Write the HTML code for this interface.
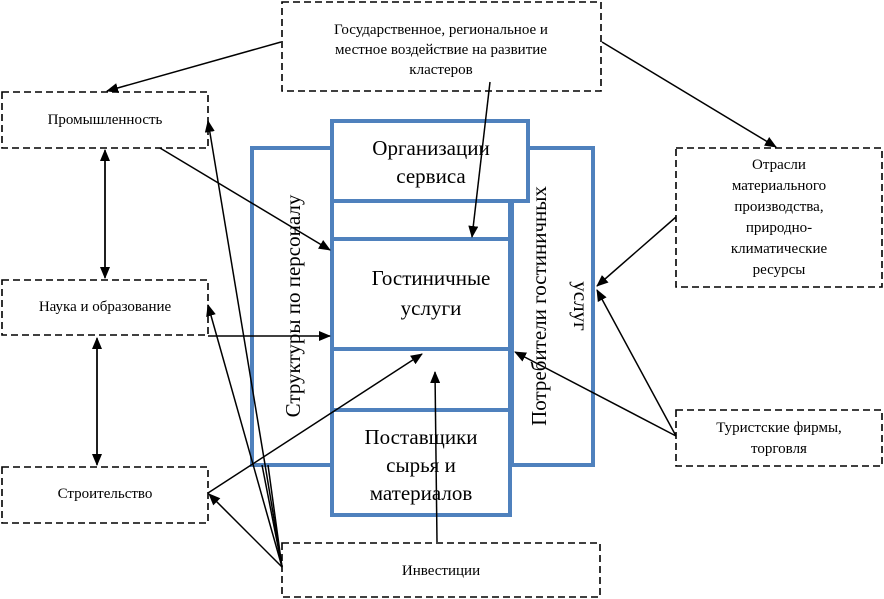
<!DOCTYPE html>
<html><head><meta charset="utf-8"><style>
html,body{margin:0;padding:0;background:#fff;}
svg{display:block;}
text{font-family:"Liberation Serif",serif;fill:#000;}
</style></head><body>
<svg width="884" height="599" viewBox="0 0 884 599" xmlns="http://www.w3.org/2000/svg">
<defs>
<marker id="a" markerWidth="12" markerHeight="10" refX="11" refY="5" orient="auto" markerUnits="userSpaceOnUse">
<path d="M0,0 L12,5 L0,10 Z" fill="#000"/>
</marker>
</defs>
<g fill="none" stroke="#000" stroke-width="1.6" stroke-dasharray="7,4">
<rect x="282" y="2" width="319" height="89"/>
<rect x="2" y="92" width="206" height="56"/>
<rect x="2" y="280" width="206" height="55"/>
<rect x="2" y="467" width="206" height="56"/>
<rect x="282" y="543" width="318" height="54"/>
<rect x="676" y="148" width="206" height="139"/>
<rect x="676" y="410" width="206" height="56"/>
</g>
<g fill="#fff" stroke="#4f81bd" stroke-width="4">
<rect x="252" y="148" width="80" height="317"/>
<rect x="512" y="148" width="81" height="317"/>
<rect x="332" y="121" width="196" height="80"/>
<rect x="332" y="201" width="178" height="314"/>
<line x1="332" y1="239" x2="510" y2="239"/>
<line x1="332" y1="349" x2="510" y2="349"/>
<line x1="332" y1="410" x2="510" y2="410"/>
</g>
<g font-size="15" text-anchor="middle">
<text x="441" y="34">Государственное, региональное и</text>
<text x="441" y="54">местное воздействие на развитие</text>
<text x="441" y="74">кластеров</text>
<text x="105" y="124">Промышленность</text>
<text x="105" y="311">Наука и образование</text>
<text x="105" y="498">Строительство</text>
<text x="441" y="575">Инвестиции</text>
<text x="779" y="169">Отрасли</text>
<text x="779" y="190">материального</text>
<text x="779" y="211">производства,</text>
<text x="779" y="232">природно-</text>
<text x="779" y="253">климатические</text>
<text x="779" y="274">ресурсы</text>
<text x="779" y="432">Туристские фирмы,</text>
<text x="779" y="453">торговля</text>
</g>
<g font-size="21" text-anchor="middle">
<text x="431" y="155">Организации</text>
<text x="431" y="183">сервиса</text>
<text x="431" y="285">Гостиничные</text>
<text x="431" y="315">услуги</text>
<text x="421" y="444">Поставщики</text>
<text x="421" y="472">сырья и</text>
<text x="421" y="500">материалов</text>
<text transform="translate(300,306) rotate(-90)">Структуры по персоналу</text>
<text transform="translate(546,306) rotate(-90)">Потребители гостиничных</text>
<text transform="translate(574,306) rotate(90)">услуг</text>
</g>
<g stroke="#000" stroke-width="1.5" fill="none">
<line x1="281" y1="42" x2="107" y2="91" marker-end="url(#a)"/>
<line x1="602" y1="42" x2="776" y2="147" marker-end="url(#a)"/>
<line x1="490" y1="82" x2="472" y2="237" marker-end="url(#a)"/>
<line x1="160" y1="148" x2="330" y2="250" marker-end="url(#a)"/>
<line x1="208" y1="336" x2="330" y2="336" marker-end="url(#a)"/>
<line x1="105" y1="160" x2="105" y2="278" marker-end="url(#a)"/>
<line x1="105" y1="270" x2="105" y2="150" marker-end="url(#a)"/>
<line x1="97" y1="347" x2="97" y2="465" marker-end="url(#a)"/>
<line x1="97" y1="455" x2="97" y2="338" marker-end="url(#a)"/>
<line x1="208" y1="493" x2="422" y2="354" marker-end="url(#a)"/>
<line x1="282" y1="567" x2="208" y2="121" marker-end="url(#a)"/>
<line x1="282" y1="567" x2="208" y2="305" marker-end="url(#a)"/>
<line x1="282" y1="567" x2="209" y2="494" marker-end="url(#a)"/>
<line x1="262" y1="465" x2="282" y2="567"/>
<line x1="268" y1="465" x2="282" y2="567"/>
<line x1="437" y1="542" x2="435" y2="372" marker-end="url(#a)"/>
<line x1="676" y1="217" x2="597" y2="286" marker-end="url(#a)"/>
<line x1="676" y1="436" x2="597" y2="290" marker-end="url(#a)"/>
<line x1="676" y1="436" x2="515" y2="352" marker-end="url(#a)"/>
</g>
</svg>
</body></html>
